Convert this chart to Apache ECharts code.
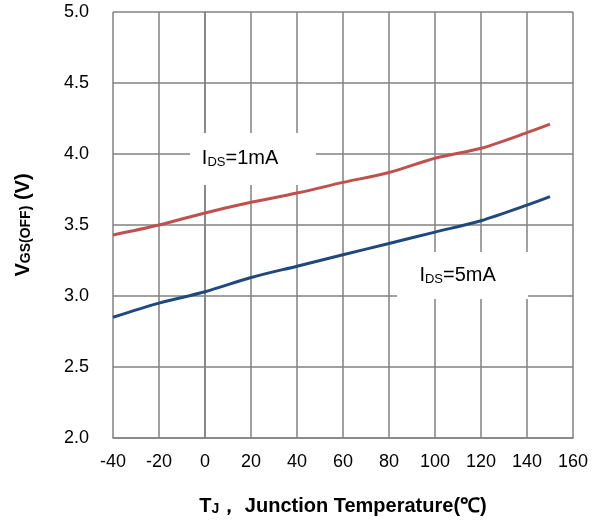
<!DOCTYPE html>
<html>
<head>
<meta charset="utf-8">
<script src="https://cdn.jsdelivr.net/npm/echarts@6/dist/echarts.min.js"></script>
<style>
  html, body { margin: 0; padding: 0; background: #fff; }
  #chart { width: 600px; height: 524px; }
</style>
</head>
<body>
<div id="chart"></div>
<script>
// ---- data ----
const tempsRed = [-40, -20, 0, 20, 40, 60, 80, 100, 120, 140, 150];
const vgsRed = [3.43, 3.50, 3.585, 3.66, 3.725, 3.80, 3.87, 3.97, 4.04, 4.15, 4.21];

const tempsBlue = [-40, -20, 0, 20, 40, 60, 80, 100, 120, 140, 150];
const vgsBlue = [2.85, 2.95, 3.03, 3.13, 3.21, 3.29, 3.37, 3.45, 3.53, 3.64, 3.70];

// label anchor points (data coords)
const label1mA = [20.9, 3.965];
const label5mA = [112, 3.144];

const GRID = '#828282';
const FONT = 'Liberation Sans, Arial, sans-serif';

function pairs(xs, ys) {
  return xs.map((x, i) => [x, ys[i]]);
}

function boxLabel(coord, size, main, sub, rest, dx) {
  return {
    coord: coord,
    symbol: 'rect',
    symbolSize: size,
    itemStyle: { color: '#fff' },
    label: {
      show: true,
      position: 'inside',
      offset: [dx, 0],
      fontSize: 20,
      formatter: '{a|' + main + '}{b|' + sub + '}{a|' + rest + '}',
      rich: {
        a: { fontSize: 20, color: '#000', fontFamily: FONT },
        b: { fontSize: 13, color: '#000', fontFamily: FONT, verticalAlign: 'bottom', padding: [7, 0, 0, 0] },
      },
    },
  };
}

const chart = echarts.init(document.getElementById('chart'));
chart.setOption({
  backgroundColor: '#fff',
  animation: false,
  grid: { left: 113, right: 27, top: 12, bottom: 86 },
  xAxis: {
    type: 'value',
    min: -40, max: 160, interval: 20,
    axisLine: { show: true, lineStyle: { color: GRID, width: 1.5 } },
    axisTick: { show: false },
    splitLine: { show: true, lineStyle: { color: GRID, width: 1.5 } },
    axisLabel: { color: '#000', fontSize: 18, fontFamily: FONT, margin: 15 },
    name: '{t|T}{j|J}{t|， Junction Temperature(℃)}',
    nameLocation: 'middle',
    nameGap: 58,
    nameTextStyle: {
      fontSize: 20, fontWeight: 'bold', color: '#000', fontFamily: FONT,
      rich: {
        t: { fontSize: 20, fontWeight: 'bold', color: '#000', fontFamily: FONT },
        j: { fontSize: 14, fontWeight: 'bold', color: '#000', fontFamily: FONT, verticalAlign: 'bottom', padding: [4, 0, 0, 0] },
      },
    },
  },
  yAxis: {
    type: 'value',
    min: 2.0, max: 5.0, interval: 0.5,
    axisLine: { show: true, lineStyle: { color: GRID, width: 1.5 } },
    axisTick: { show: false },
    splitLine: { show: true, lineStyle: { color: GRID, width: 1.5 } },
    axisLabel: {
      color: '#000', fontSize: 18, fontFamily: FONT, margin: 24,
      formatter: (v) => v.toFixed(1),
    },
    name: '{v|V}{s|GS(OFF)}{v| (V)}',
    nameLocation: 'middle',
    nameGap: 80,
    nameRotate: 90,
    nameTextStyle: {
      fontSize: 20, fontWeight: 'bold', color: '#000', fontFamily: FONT,
      rich: {
        v: { fontSize: 20, fontWeight: 'bold', color: '#000', fontFamily: FONT },
        s: { fontSize: 14, fontWeight: 'bold', color: '#000', fontFamily: FONT, verticalAlign: 'bottom', padding: [6, 0, 0, 0] },
      },
    },
  },
  series: [
    {
      name: 'IDS=1mA',
      type: 'line',
      smooth: 0.3,
      showSymbol: false,
      data: pairs(tempsRed, vgsRed),
      lineStyle: { color: '#C0504D', width: 3 },
      markPoint: {
        silent: true,
        data: [boxLabel(label1mA, [126, 52], 'I', 'DS', '=1mA', -13)],
      },
      z: 3,
    },
    {
      name: 'IDS=5mA',
      type: 'line',
      smooth: 0.3,
      showSymbol: false,
      data: pairs(tempsBlue, vgsBlue),
      lineStyle: { color: '#1F497D', width: 3 },
      markPoint: {
        silent: true,
        data: [boxLabel(label5mA, [131, 47], 'I', 'DS', '=5mA', -5)],
      },
      z: 3,
    },
  ],
});
</script>
</body>
</html>
